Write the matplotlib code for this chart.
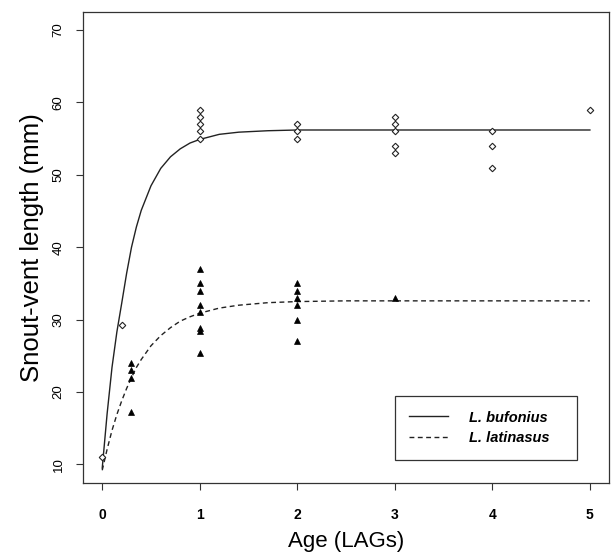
import matplotlib
matplotlib.use("Agg")
import matplotlib.pyplot as plt
from matplotlib.lines import Line2D

plt.rcParams['font.family'] = ['Liberation Sans', 'DejaVu Sans']

# observed points, L. bufonius (open diamonds)
buf_age = [0, 0.2, 1, 1, 1, 1, 1, 2, 2, 2, 3, 3, 3, 3, 3, 4, 4, 4, 5]
buf_svl = [11, 29.2, 55, 56, 57, 58, 59, 55, 56, 57, 53, 54, 56, 57, 58, 51, 54, 56, 59]

# observed points, L. latinasus (filled triangles)
lat_age = [0.3, 0.3, 0.3, 0.3, 1, 1, 1, 1, 1, 1, 1, 1, 2, 2, 2, 2, 2, 2, 3]
lat_svl = [24, 23, 22, 17.3, 37, 35, 34, 32, 31, 28.8, 28.5, 25.4, 35, 34, 33, 32, 30, 27, 33]

# fitted growth curves
fit_age = [0, 0.05, 0.1, 0.15, 0.2, 0.25, 0.3, 0.35, 0.4, 0.5, 0.6, 0.7,
           0.8, 0.9, 1.0, 1.2, 1.4, 1.7, 2.0, 2.5, 3, 4, 5]
fit_buf = [9.5, 17.0, 23.4, 28.3, 32.3, 36.4, 40.0, 42.8, 45.1, 48.5, 50.9, 52.5,
           53.6, 54.4, 54.9, 55.6, 55.9, 56.1, 56.2, 56.2, 56.2, 56.2, 56.2]
fit_lat = [9.2, 12.1, 14.7, 16.9, 18.8, 20.5, 22.0, 23.4, 24.5, 26.4, 27.8, 28.9,
           29.8, 30.4, 30.9, 31.6, 32.0, 32.35, 32.5, 32.6, 32.6, 32.6, 32.6]

xticks = [0, 1, 2, 3, 4, 5]
yticks = [10, 20, 30, 40, 50, 60, 70]

fig = plt.figure(figsize=(6.16, 5.55), dpi=100, facecolor='w')
ax = fig.add_axes([0.1343, 0.1292, 0.855, 0.8492])

ax.plot(fit_age, fit_buf, color='#222222', lw=1.0, solid_joinstyle='round')
ax.plot(fit_age, fit_lat, color='#222222', lw=1.0, linestyle=(0, (3.5, 2.5)))
ax.plot(buf_age, buf_svl, linestyle='none', marker='D', ms=3.3, mfc='white',
        mec='#222222', mew=0.8)
ax.plot(lat_age, lat_svl, linestyle='none', marker='^', ms=5, mfc='black',
        mec='black', mew=0.5)

ax.set_xlim(-0.2, 5.2)
ax.set_ylim(7.4, 72.5)
ax.set_xticks(xticks)
ax.set_yticks(yticks)
ax.tick_params(axis='both', direction='out', length=5, width=0.8, color='#333333')
ax.tick_params(axis='x', pad=13, labelsize=10)
ax.tick_params(axis='y', pad=8, labelsize=9.5)
for lab in ax.get_xticklabels():
    lab.set_fontweight('bold')
for lab in ax.get_yticklabels():
    lab.set_rotation(90)
    lab.set_va('center')
for s in ax.spines.values():
    s.set_linewidth(0.9)
    s.set_color('#333333')

ax.set_xlabel('Age (LAGs)', fontsize=16, labelpad=6)
ax.set_ylabel('Snout-vent length (mm)', fontsize=18.5, labelpad=6)

handles = [Line2D([], [], color='#222222', lw=1.0),
           Line2D([], [], color='#222222', lw=1.0, linestyle=(0, (3.5, 2.5)))]
labels = ['L. bufonius', 'L. latinasus']
leg = ax.legend(handles, labels, loc='lower left', bbox_to_anchor=(0.592, 0.05, 0.347, 0.144),
                mode='expand', borderaxespad=0, fancybox=False, framealpha=1,
                edgecolor='#333333', handlelength=2.7, handletextpad=1.4,
                borderpad=1.0, labelspacing=0.45,
                prop={'size': 10.5, 'style': 'italic', 'weight': 'bold'})
leg.get_frame().set_linewidth(0.9)

fig.savefig('out.png', dpi=100, facecolor='w')
